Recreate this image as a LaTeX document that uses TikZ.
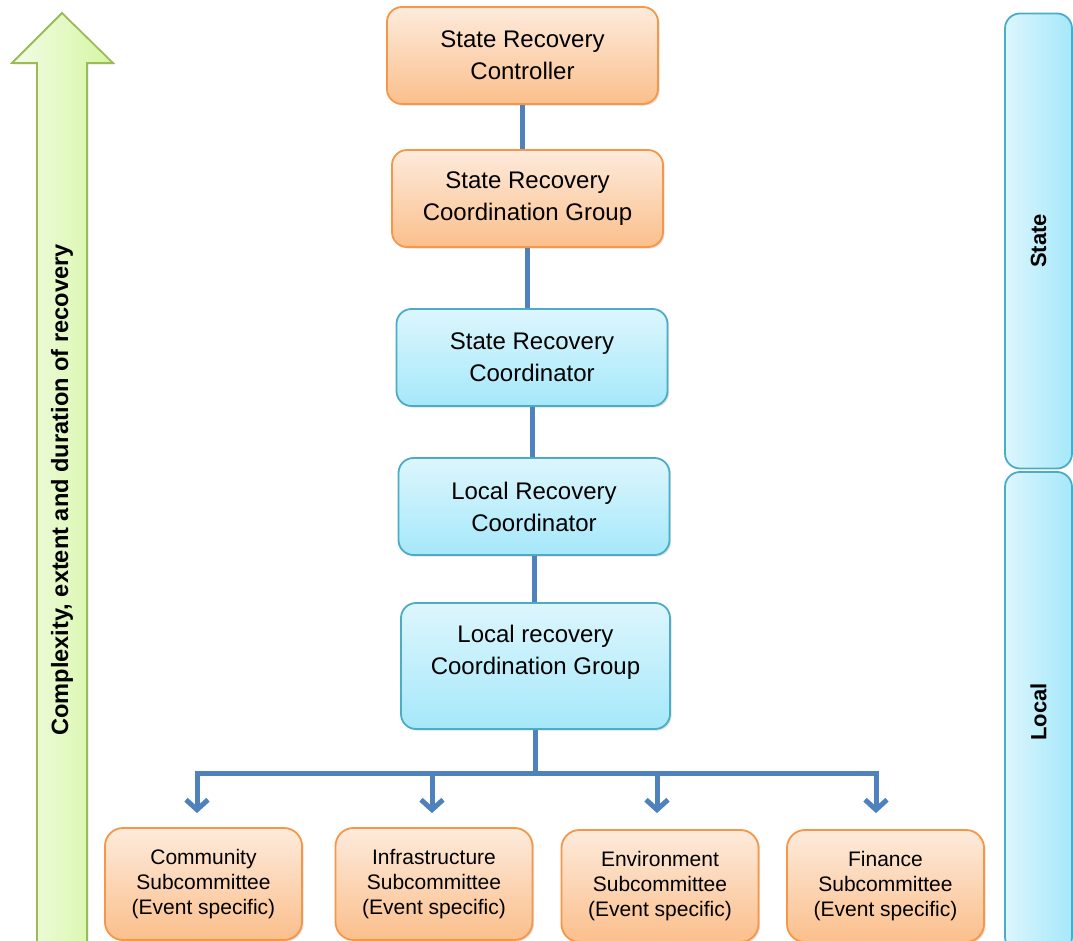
\documentclass[tikz,border=0pt]{standalone}
\usepackage{fontspec}
\setmainfont{Liberation Sans}
\usepackage{tikz}
\usetikzlibrary{shapes,arrows.meta,positioning,calc,shadows}
\definecolor{orangetop}{HTML}{FDEBDC}
\definecolor{orangebot}{HTML}{FBBF8C}
\definecolor{orangeline}{HTML}{F79646}
\definecolor{bluetop}{HTML}{DDF6FD}
\definecolor{bluebot}{HTML}{A5E8FA}
\definecolor{blueline}{HTML}{4BACC6}
\definecolor{greenleft}{HTML}{F3FCE6}
\definecolor{greenright}{HTML}{D4F6A2}
\definecolor{greenline}{HTML}{9BBB59}
\definecolor{connblue}{HTML}{4F81BD}

\begin{document}
\begin{tikzpicture}[
    x=0.5pt, y=-0.5pt,
    box/.style={draw=orangeline, line width=0.9pt, rounded corners=7.5pt, align=center, font=\fontsize{12}{16}\selectfont, minimum width=135.5pt, minimum height=48.5pt, drop shadow={opacity=0.25, shadow xshift=0.8pt, shadow yshift=-0.8pt}},
    statebox/.style={box, top color=orangetop, bottom color=orangebot},
    coordbox/.style={box, draw=blueline, top color=bluetop, bottom color=bluebot},
    subbox/.style={statebox, rounded corners=9pt, font=\fontsize{10.5}{12.5}\selectfont, minimum width=98.5pt, minimum height=56pt},
    sidebar/.style={draw=blueline, line width=0.9pt, rounded corners=7.5pt, left color=bluetop, right color=bluebot, minimum width=33.5pt, font=\bfseries\fontsize{11}{13}\selectfont},
    conn/.style={draw=connblue, line width=2.5pt},
    >={Straight Barb[length=5pt, width=11pt]}
]
    \useasboundingbox (0,0) rectangle (1073,941);

    % Growth arrow
    \draw[greenline, line width=0.9pt, left color=greenleft, right color=greenright, drop shadow={opacity=0.2, shadow xshift=0.8pt, shadow yshift=-0.8pt}]
        (62,13) -- (113,63) -- (87,63) -- (87,950) -- (37,950) -- (37,63) -- (12,63) -- cycle;
    \node[rotate=90, font=\bfseries\fontsize{11.8}{14}\selectfont] (growth) at (62,490) {Complexity, extent and duration of recovery};

    % Level bars
    \node[sidebar, minimum height=227.5pt] (statebar) at (1038.5,241) {\rotatebox{90}{State}};
    \node[sidebar, minimum height=240pt] (localbar) at (1038.5,712) {\rotatebox{90}{Local}};

    % State level
    \node[statebox] (src) at (522.5,55.5) {State Recovery\\Controller};
    \node[statebox] (srcg) at (527.5,198.5) {State Recovery\\Coordination Group};
    \node[coordbox] (srco) at (532,357.5) {State Recovery\\Coordinator};

    % Local level
    \node[coordbox] (lrco) at (534,506.5) {Local Recovery\\Coordinator};
    \node[coordbox, minimum width=134.5pt, minimum height=63pt] (lrcg) at (535.5,666) {Local recovery\\Coordination Group\\\mbox{}};

    % Subcommittees
    \node[subbox] (sub1) at (203.5,884) {Community\\Subcommittee\\(Event specific)};
    \node[subbox] (sub2) at (434,884) {Infrastructure\\Subcommittee\\(Event specific)};
    \node[subbox] (sub3) at (660,886) {Environment\\Subcommittee\\(Event specific)};
    \node[subbox] (sub4) at (885.5,886) {Finance\\Subcommittee\\(Event specific)};

    % Edges
    \draw[conn] (src.south) -- (src.south |- srcg.north);
    \draw[conn] (srcg.south) -- (srcg.south |- srco.north);
    \draw[conn] (srco.south) -- (srco.south |- lrco.north);
    \draw[conn] (lrco.south) -- (lrco.south |- lrcg.north);

    % Bus to subcommittees
    \coordinate (busL) at (197,774);
    \coordinate (busR) at (876,774);
    \draw[conn] (lrcg.south) -- (lrcg.south |- busL);
    \draw[conn, line cap=rect] (busL) -- (busR);
    \draw[conn, ->] (busL) -- ([xshift=-3.25pt, yshift=7pt]sub1.north);
    \draw[conn, ->] ([xshift=-1pt]sub2.north |- busL) -- ([xshift=-1pt, yshift=7pt]sub2.north);
    \draw[conn, ->] ([xshift=-1.5pt]sub3.north |- busL) -- ([xshift=-1.5pt, yshift=8pt]sub3.north);
    \draw[conn, ->] (busR) -- ([xshift=-4.75pt, yshift=8pt]sub4.north);

\end{tikzpicture}
\end{document}
